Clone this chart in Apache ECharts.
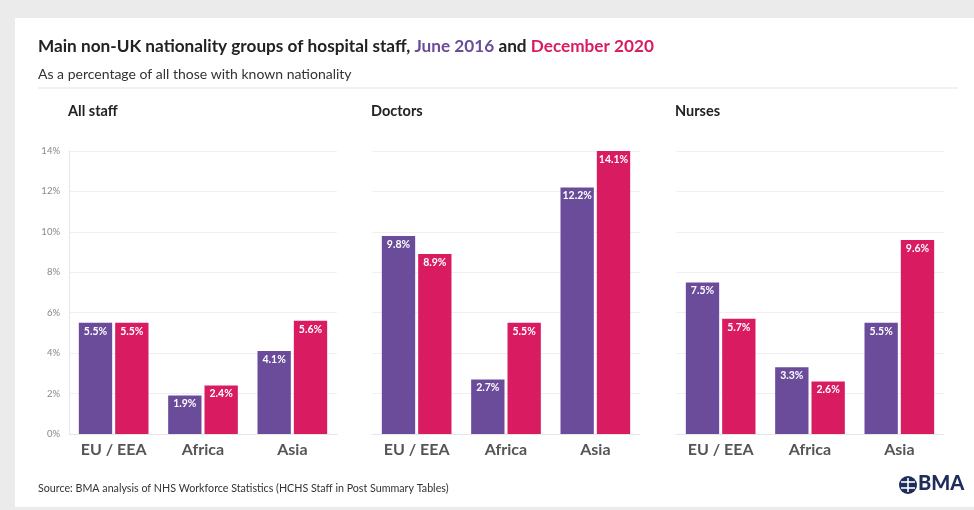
<!DOCTYPE html>
<html>
<head>
<meta charset="utf-8">
<script src="https://cdn.jsdelivr.net/npm/echarts@6/dist/echarts.min.js"></script>
<style>
  html, body { margin: 0; padding: 0; background: #ebebeb; }
  #chart { width: 974px; height: 510px; }
</style>
</head>
<body>
<div id="chart"></div>
<script>
// data
var panels = ['All staff', 'Doctors', 'Nurses'];
var groups = ['EU / EEA', 'Africa', 'Asia'];
var june2016 = [
  [5.5, 1.9, 4.1],   // all staff
  [9.8, 2.7, 12.2],  // doctors
  [7.5, 3.3, 5.5]    // nurses
];
var dec2020 = [
  [5.5, 2.4, 5.6],
  [8.9, 5.5, 14.1],
  [5.7, 2.6, 9.6]
];
var yTicks = [0, 2, 4, 6, 8, 10, 12, 14];

var PURPLE = '#6a4c9b';
var PINK = '#d91c62';
var FONT = 'Lato, "Open Sans", sans-serif';

var myChart = echarts.init(document.getElementById('chart'));

// grid left positions for the three small charts
var gridLeft = [69, 372, 676];
var gridW = 268;

var grids = [], xAxes = [], yAxes = [], series = [];
for (var p = 0; p < panels.length; p++) {
  grids.push({ left: gridLeft[p], top: 151, width: gridW, height: 283 });
  xAxes.push({
    type: 'category', gridIndex: p, data: groups,
    axisLine: { show: true, lineStyle: { color: '#e6e6e6' } },
    axisTick: { show: false },
    axisLabel: { color: '#555', fontSize: 16, fontWeight: 'bold', fontFamily: FONT, margin: 8 }
  });
  yAxes.push({
    type: 'value', gridIndex: p, min: yTicks[0], max: yTicks[yTicks.length - 1], interval: 2,
    axisLine: { show: p === 0, lineStyle: { color: '#e6e6e6' } },
    axisTick: { show: false },
    splitLine: { lineStyle: { color: '#f0f0f0' } },
    axisLabel: { show: p === 0, color: '#888', fontSize: 9.5, fontFamily: FONT, margin: 9,
      formatter: function (v) { return v + '%'; } }
  });
  var lab = {
    show: true, position: 'insideTop', distance: 3, color: '#fff',
    fontSize: 10.5, fontWeight: 'bold', fontFamily: FONT,
    formatter: function (d) { return d.value.toFixed(1) + '%'; }
  };
  series.push({
    name: 'June 2016', type: 'bar', xAxisIndex: p, yAxisIndex: p,
    data: june2016[p], itemStyle: { color: PURPLE },
    barCategoryGap: '22%', barGap: '9%', label: lab
  });
  series.push({
    name: 'December 2020', type: 'bar', xAxisIndex: p, yAxisIndex: p,
    data: dec2020[p], itemStyle: { color: PINK },
    barCategoryGap: '22%', barGap: '9%', label: lab
  });
}

var graphic = [
  // white card
  { type: 'rect', shape: { x: 15, y: 18, width: 959, height: 489 }, style: { fill: '#fff' }, z: -10 },
  {
    type: 'text', left: 38, top: 38,
    style: {
      text: '{a|Main non-UK nationality groups of hospital staff, }{b|June 2016}{a| and }{c|December 2020}',
      rich: {
        a: { fontSize: 17.2, fontWeight: 'bold', fill: '#222', fontFamily: FONT },
        b: { fontSize: 17.2, fontWeight: 'bold', fill: PURPLE, fontFamily: FONT },
        c: { fontSize: 17.2, fontWeight: 'bold', fill: PINK, fontFamily: FONT }
      }
    }
  },
  { type: 'text', left: 38, top: 67, style: { text: 'As a percentage of all those with known nationality', fontSize: 14, fill: '#333', fontFamily: FONT } },
  { type: 'line', shape: { x1: 38, y1: 88, x2: 958, y2: 88 }, style: { stroke: '#e3e3e3', lineWidth: 1 } },
  { type: 'text', left: 38, top: 483, style: { text: 'Source: BMA analysis of NHS Workforce Statistics (HCHS Staff in Post Summary Tables)', fontSize: 10.7, fill: '#333', fontFamily: FONT } },
  // BMA logo
  { type: 'circle', shape: { cx: 908, cy: 485, r: 9 }, style: { fill: '#1f2d5c' } },
  { type: 'line', shape: { x1: 901, y1: 482, x2: 915, y2: 482 }, style: { stroke: '#fff', lineWidth: 1.6 } },
  { type: 'line', shape: { x1: 901, y1: 488, x2: 915, y2: 488 }, style: { stroke: '#fff', lineWidth: 1.6 } },
  { type: 'line', shape: { x1: 908, y1: 478, x2: 908, y2: 492 }, style: { stroke: '#fff', lineWidth: 1.6 } },
  { type: 'text', left: 918, top: 474, style: { text: 'BMA', fontSize: 20, fontWeight: 900, fill: '#1f2d5c', fontFamily: FONT } }
];
for (var i = 0; i < panels.length; i++) {
  graphic.push({ type: 'text', left: gridLeft[i] - 1, top: 104, style: { text: panels[i], fontSize: 14.5, fontWeight: 'bold', fill: '#222', fontFamily: FONT } });
}

var option = {
  backgroundColor: '#ebebeb',
  animation: false,
  graphic: graphic,
  grid: grids,
  xAxis: xAxes,
  yAxis: yAxes,
  series: series
};
myChart.setOption(option);
</script>
</body>
</html>
